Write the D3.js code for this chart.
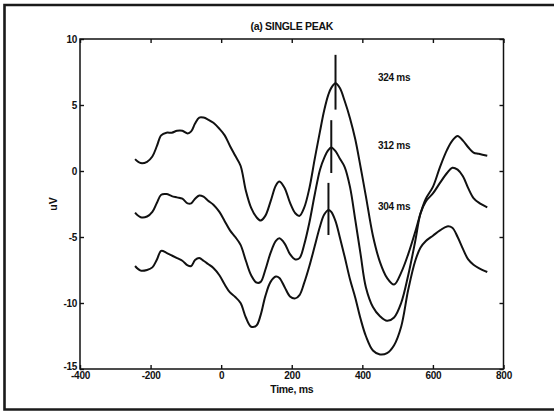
<!DOCTYPE html>
<html>
<head>
<meta charset="utf-8">
<script src="https://cdn.jsdelivr.net/npm/d3@7"></script>
<style>
  html, body { margin: 0; padding: 0; background: #fff; }
  svg { display: block; }
  text { font-family: "Liberation Sans", Arial, Helvetica, sans-serif; font-weight: bold; fill: #111; }
</style>
</head>
<body>
<svg id="chart" width="554" height="415"></svg>
<script>
// Sample times (ms) shared by the three averaged waveforms
const timeMs = [-244,-228,-210,-195,-182,-170,-155,-140,-125,-110,-95,-85,-74,-62,-50,-37,-22,-5,10,25,40,55,70,85,100,112,125,140,155,165,180,195,210,222,235,250,265,280,292,304,312,324,336,350,365,380,395,410,430,450,470,490,510,530,550,565,580,600,620,640,655,670,685,700,715,730,754];

// Upper waveform (peak at 324 ms), uV
const waveTop = [0.9,0.6,0.7,1.1,1.9,2.7,2.9,2.9,3.05,3.05,2.85,3.0,3.6,4.05,4.05,3.9,3.65,3.2,2.7,1.9,1.15,0.4,-1.5,-2.8,-3.5,-3.75,-3.4,-2.3,-1.1,-0.8,-1.3,-2.4,-3.2,-3.4,-2.8,-1.3,0.9,3.0,4.6,5.8,6.3,6.65,6.3,5.3,4.0,2.4,0.3,-1.9,-4.9,-6.9,-8.1,-8.6,-7.7,-6.3,-4.6,-3.2,-2.1,-1.2,0.3,1.6,2.3,2.65,2.3,1.8,1.4,1.3,1.15];

// Middle waveform (peak at 312 ms), uV
const waveMid = [-3.15,-3.5,-3.45,-3.1,-2.4,-1.8,-1.75,-1.9,-2.0,-2.1,-2.45,-2.45,-2.1,-1.85,-1.95,-2.25,-2.55,-3.1,-3.8,-4.5,-5.0,-5.6,-6.8,-7.9,-8.45,-8.4,-7.5,-6.2,-5.3,-5.1,-5.5,-6.3,-6.7,-6.6,-5.6,-3.9,-1.8,0.1,1.0,1.6,1.78,1.5,0.95,0.3,-1.2,-3.7,-6.3,-8.8,-10.3,-11.0,-11.35,-11.1,-10.0,-7.9,-5.3,-3.2,-2.3,-1.7,-0.9,-0.15,0.25,0.1,-0.4,-1.3,-2.05,-2.4,-2.75];

// Lower waveform (peak at 304 ms), uV
const waveLow = [-7.2,-7.55,-7.5,-7.3,-6.7,-6.05,-6.2,-6.4,-6.6,-6.8,-7.15,-7.2,-6.75,-6.6,-6.8,-7.05,-7.35,-7.9,-8.6,-9.2,-9.55,-10.0,-11.1,-11.8,-11.7,-10.9,-9.5,-8.4,-8.0,-8.1,-8.8,-9.5,-9.65,-9.4,-8.5,-7.2,-5.7,-4.2,-3.3,-2.95,-3.1,-3.8,-5.0,-6.5,-8.2,-9.6,-11.2,-12.5,-13.6,-13.9,-13.8,-13.2,-11.8,-9.0,-6.8,-5.8,-5.3,-4.9,-4.5,-4.2,-4.3,-5.0,-5.9,-6.7,-7.1,-7.35,-7.65];

// Peak latency markers: time, and the uV span of each vertical bar
const peakTimes = [324, 312, 304];
const peakBarTop = [8.8, 3.85, -0.9];
const peakBarBottom = [4.65, -0.15, -4.85];
const peakLabels = ["324 ms", "312 ms", "304 ms"];

// Axis ticks
const xTicks = [-400, -200, 0, 200, 400, 600, 800];
const yTicks = [10, 5, 0, -5, -10, -15];

const titleText = "(a) SINGLE PEAK";
const xLabel = "Time, ms";
const yLabel = "uV";

// Layout
const W = 554, H = 415;
const plot = { left: 80, right: 503.5, top: 39, bottom: 369 };
const labelLayout = { t: 490, v: [7.1, 1.95, -2.7] };

const svg = d3.select("#chart");

svg.append("rect").attr("width", W).attr("height", H).attr("fill", "#fff");

// Outer frame (open to the right edge)
svg.append("path")
  .attr("d", `M ${W + 5} 5 H 4.5 V 409.5 H ${W + 5}`)
  .attr("fill", "none").attr("stroke", "#1a1a1a").attr("stroke-width", 2.6);

const x = d3.scaleLinear().domain([-400, 800]).range([plot.left, plot.right]);
const y = d3.scaleLinear().domain([-15, 10]).range([plot.bottom, plot.top]);

const fmt = d => String(d);

// Axes with inward ticks on all four sides
const gBottom = svg.append("g").attr("transform", `translate(0,${plot.bottom})`)
  .call(d3.axisBottom(x).tickValues(xTicks).tickFormat(fmt).tickSizeInner(-4).tickSizeOuter(0).tickPadding(3));
const gLeft = svg.append("g").attr("transform", `translate(${plot.left},0)`)
  .call(d3.axisLeft(y).tickValues(yTicks).tickFormat(fmt).tickSizeInner(-4).tickSizeOuter(0).tickPadding(3));
const gTop = svg.append("g").attr("transform", `translate(0,${plot.top})`)
  .call(d3.axisTop(x).tickValues(xTicks).tickFormat("").tickSizeInner(-4).tickSizeOuter(0));
const gRight = svg.append("g").attr("transform", `translate(${plot.right},0)`)
  .call(d3.axisRight(y).tickValues(yTicks).tickFormat("").tickSizeInner(-4).tickSizeOuter(0));

[gBottom, gLeft, gTop, gRight].forEach(g => {
  g.select(".domain").remove();
  g.selectAll(".tick line").attr("stroke", "#111").attr("stroke-width", 1.4);
  g.selectAll(".tick text").attr("font-size", 10).attr("fill", "#111")
    .attr("font-family", "'Liberation Sans', Arial, sans-serif").attr("font-weight", "bold")
    .attr("letter-spacing", -0.3);
});
// The lowest y label sits a little higher so it clears the first x label
gLeft.selectAll(".tick text").attr("dy", d => d === -15 ? "0.05em" : "0.35em");
gBottom.selectAll(".tick text").attr("dy", "0.72em");

svg.append("rect")
  .attr("x", plot.left).attr("y", plot.top)
  .attr("width", plot.right - plot.left).attr("height", plot.bottom - plot.top)
  .attr("fill", "none").attr("stroke", "#111").attr("stroke-width", 1.5);

// Waveforms
const line = d3.line()
  .x((d, i) => x(timeMs[i]))
  .y(d => y(d))
  .curve(d3.curveCatmullRom.alpha(0.5));

[waveTop, waveMid, waveLow].forEach(w => {
  svg.append("path")
    .attr("d", line(w))
    .attr("fill", "none")
    .attr("stroke", "#111")
    .attr("stroke-width", 2)
    .attr("stroke-linejoin", "round");
});

// Peak latency bars and labels
peakTimes.forEach((t, i) => {
  svg.append("line")
    .attr("x1", x(t)).attr("x2", x(t))
    .attr("y1", y(peakBarTop[i])).attr("y2", y(peakBarBottom[i]))
    .attr("stroke", "#111").attr("stroke-width", 2);
  svg.append("text")
    .attr("x", x(labelLayout.t)).attr("y", y(labelLayout.v[i]))
    .attr("text-anchor", "middle").attr("dy", "0.35em")
    .attr("font-size", 10).attr("letter-spacing", -0.3)
    .text(peakLabels[i]);
});

// Title and axis labels
svg.append("text")
  .attr("x", (plot.left + plot.right) / 2).attr("y", 26)
  .attr("text-anchor", "middle").attr("dy", "0.35em")
  .attr("font-size", 10.5).attr("letter-spacing", -0.3)
  .text(titleText);

svg.append("text")
  .attr("x", (plot.left + plot.right) / 2).attr("y", 389)
  .attr("text-anchor", "middle").attr("dy", "0.35em")
  .attr("font-size", 10.5).attr("letter-spacing", -0.3)
  .text(xLabel);

svg.append("text")
  .attr("transform", `translate(53,${(plot.top + plot.bottom) / 2}) rotate(-90)`)
  .attr("text-anchor", "middle").attr("dy", "0.35em")
  .attr("font-size", 10.5)
  .text(yLabel);
</script>
</body>
</html>
